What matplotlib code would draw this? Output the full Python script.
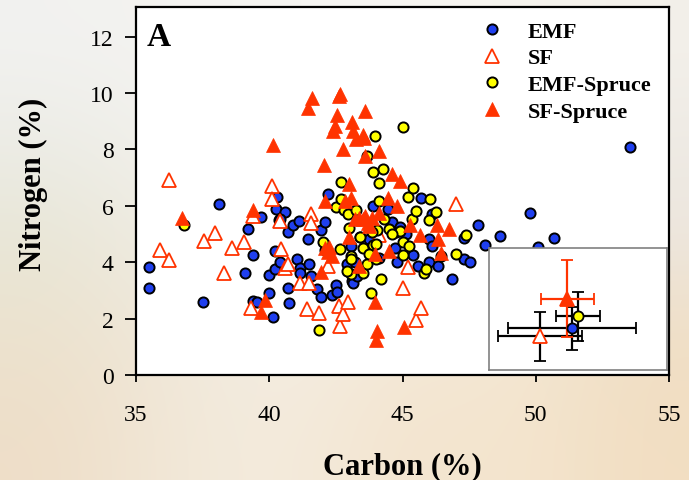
import numpy as np
import matplotlib
matplotlib.use('Agg')
import matplotlib.pyplot as plt

plt.rcParams['font.family'] = ['Liberation Serif', 'DejaVu Serif']

# carbon / nitrogen (%) per sample
emf_c = [35.5, 35.5, 37.5, 38.1, 39.1, 39.2, 39.4, 39.4, 39.55, 39.7, 40.0, 40.0, 40.15, 40.2, 40.2,
         40.25, 40.3, 40.35, 40.4, 40.6, 40.7, 40.7, 40.75, 40.9, 41.05, 41.1, 41.15, 41.15, 41.45,
         41.5, 41.55, 41.8, 41.95, 41.95, 42.1, 42.1, 42.2, 42.35, 42.5, 42.55, 42.8, 42.9, 43.05,
         43.1, 43.15, 43.2, 43.3, 43.4, 43.75, 43.9, 44.0, 44.1, 44.45, 44.6, 44.7, 44.76, 44.8,
         44.9, 45.15, 45.4, 45.6, 45.7, 46.0, 46.1, 46.1, 46.0, 46.35, 46.85, 47.3, 47.55, 47.3,
         47.85, 48.1, 48.65, 49.8, 50.1, 50.7, 53.55, 40.4]
emf_n = [3.83, 3.1, 2.6, 6.06, 3.62, 5.19, 4.27, 2.63, 2.58, 5.6, 3.54, 2.9, 2.04, 4.4, 3.75,
         5.9, 6.3, 5.5, 3.99, 5.78, 5.08, 3.1, 2.55, 5.33, 4.1, 5.46, 3.8, 3.6, 4.83,
         3.92, 3.5, 3.05, 5.15, 2.77, 5.42, 4.43, 6.43, 2.84, 3.18, 2.96, 5.87, 3.93, 4.58,
         3.34, 3.28, 3.99, 3.51, 4.9, 4.81, 6.01, 5.05, 4.16, 5.87, 5.42, 4.52, 5.08, 3.99,
         5.25, 5.01, 4.25, 3.86, 6.27, 4.83, 4.58, 5.7, 3.99, 3.87, 3.4, 4.1, 4.0, 4.85,
         5.32, 4.6, 4.93, 5.73, 4.54, 4.87, 8.07, 5.53]

sf_c = [36.25, 35.9, 36.25, 37.55, 37.95, 38.6, 39.05, 38.3, 39.3, 39.4, 40.1, 40.1, 40.4, 40.45,
        40.6, 40.7, 41.15, 41.4, 41.55, 41.55, 41.5, 41.85, 42.2, 42.6, 42.65, 42.75, 42.97, 45.0,
        45.2, 45.5, 45.7, 47.0, 44.1]
sf_n = [6.93, 4.43, 4.08, 4.75, 5.02, 4.52, 4.72, 3.63, 2.39, 5.64, 6.7, 6.23, 5.46, 4.46,
        3.8, 3.95, 3.27, 2.34, 5.72, 5.38, 3.27, 2.2, 3.87, 2.43, 1.72, 2.17, 2.6, 3.1,
        3.84, 1.96, 2.39, 6.08, 4.95]

emfs_c = [36.8, 41.85, 42.0, 42.5, 42.65, 42.7, 42.7, 42.8, 42.95, 43.0, 43.05, 43.05, 43.05, 43.25,
          43.4, 43.5, 43.5, 43.65, 43.65, 43.8, 43.9, 43.95, 44.0, 44.05, 44.1, 44.1, 44.2, 44.25,
          43.9, 44.3, 44.5, 44.9, 45.0, 45.0, 45.0, 45.2, 45.25, 45.35, 45.4, 45.5, 45.8, 45.9,
          46.0, 46.05, 46.25, 46.45, 47.0, 47.4, 43.87, 43.76, 44.0, 42.9, 44.6]
emfs_n = [5.31, 1.6, 4.73, 5.94, 4.48, 6.84, 6.25, 5.85, 5.7, 5.22, 4.22, 4.1, 3.57, 5.85,
          4.9, 3.6, 4.52, 7.78, 3.93, 2.92, 4.6, 8.47, 4.1, 5.14, 6.82, 6.17, 3.4, 7.29,
          7.19, 5.54, 5.17, 5.1, 8.79, 4.72, 4.25, 6.3, 4.58, 5.52, 6.64, 5.82, 3.63, 3.77,
          5.5, 6.24, 5.78, 4.22, 4.28, 4.98, 5.08, 4.3, 4.65, 3.7, 5.0]

sfs_c = [36.73, 39.4, 39.85, 39.7, 40.13, 41.45, 41.6, 41.95, 42.05, 42.1, 42.1, 42.25, 42.35, 42.4,
         42.45, 42.55, 42.6, 42.65, 42.75, 42.85, 43.0, 43.0, 43.05, 43.1, 43.15, 43.25, 43.35,
         43.35, 43.5, 43.55, 43.6, 43.6, 43.7, 43.85, 43.95, 44.0, 44.05, 44.1, 44.1, 43.95,
         44.45, 44.5, 44.6, 44.8, 44.9, 45.05, 45.3, 45.65, 46.3, 46.35, 46.45, 46.75, 43.2,
         43.5, 42.2, 43.6, 43.75]
sfs_n = [5.55, 5.84, 2.65, 2.22, 8.17, 9.47, 9.82, 3.66, 7.46, 6.17, 4.5, 4.55, 4.22, 8.64,
         8.82, 9.23, 9.88, 9.96, 8.02, 6.17, 4.9, 6.76, 6.29, 8.97, 8.64, 8.37, 3.87,
         5.58, 8.5, 8.4, 9.36, 7.76, 5.4, 5.58, 2.6, 1.25, 1.57, 7.95, 5.75, 4.28,
         6.29, 4.38, 7.14, 6.0, 6.88, 1.69, 5.32, 4.95, 5.31, 4.83, 4.33, 5.16, 5.54,
         5.52, 4.35, 5.65, 5.3]

# group means and SD for the inset
groups = ['EMF', 'SF', 'EMF-Spruce', 'SF-Spruce']
mean_c = [45.3, 41.7, 46.0, 44.8]
sd_c = [7.2, 4.7, 2.5, 3.0]
mean_n = [4.1, 3.3, 5.3, 7.0]
sd_n = [2.1, 2.4, 2.4, 3.8]

blue = '#1f3fef'
red = '#ff3300'
yellow = '#ffff00'

fig = plt.figure(figsize=(6.89, 4.81), dpi=100)

# soft photo-like backdrop
bg_cols = np.array([
    [[242, 242, 240], [244, 243, 240], [246, 245, 242], [247, 246, 243], [246, 244, 238], [243, 240, 234]],
    [[236, 236, 230], [242, 241, 236], [246, 245, 242], [247, 246, 243], [245, 242, 236], [238, 234, 228]],
    [[232, 230, 214], [240, 236, 226], [246, 244, 240], [246, 244, 238], [244, 238, 228], [236, 230, 222]],
    [[236, 226, 206], [240, 232, 218], [244, 238, 228], [243, 232, 214], [244, 232, 212], [240, 222, 196]],
    [[238, 222, 200], [242, 232, 216], [244, 236, 222], [243, 228, 206], [244, 230, 208], [242, 222, 194]],
]) / 255.0
bg = fig.add_axes([0, 0, 1, 1], zorder=-1)
bg.imshow(bg_cols, extent=[0, 1, 0, 1], aspect='auto', interpolation='bicubic')
bg.axis('off')

ax = fig.add_axes([136 / 689, 1 - 376 / 481, 533 / 689, 368 / 481])
ax.set_facecolor('white')

ax.plot(emf_c, emf_n, 'o', ms=7.3, mfc=blue, mec='black', mew=1.4, ls='none', label='EMF')
ax.plot(sf_c, sf_n, '^', ms=9.5, mfc='white', mec=red, mew=1.3, ls='none', label='SF')
ax.plot(emfs_c, emfs_n, 'o', ms=7.3, mfc=yellow, mec='black', mew=1.4, ls='none', label='EMF-Spruce')
ax.plot(sfs_c, sfs_n, '^', ms=9.5, mfc=red, mec=red, mew=0.5, ls='none', label='SF-Spruce')

ax.set_xlim(35, 55)
ax.set_ylim(0, 13.05)
ax.set_xticks([35, 40, 45, 50, 55])
ax.set_yticks([0, 2, 4, 6, 8, 10, 12])
ax.tick_params(axis='x', direction='out', length=5, width=1.3, pad=16, labelsize=17)
ax.tick_params(axis='y', direction='out', length=8, width=1.3, pad=8, labelsize=17)
for s in ax.spines.values():
    s.set_linewidth(1.6)

ax.set_xlabel('Carbon (%)', fontsize=22, fontweight='bold')
ax.set_ylabel('Nitrogen (%)', fontsize=22, fontweight='bold')
ax.xaxis.set_label_coords(0.5, -0.208)
ax.yaxis.set_label_coords(-0.165, 0.52)

ax.text(0.02, 0.962, 'A', transform=ax.transAxes, fontsize=24, fontweight='bold', va='top', ha='left')

leg = ax.legend(loc='upper left', bbox_to_anchor=(481 / 689, 1 - 22 / 481), bbox_transform=fig.transFigure,
                frameon=False, borderpad=0, borderaxespad=0, handlelength=1.0, handletextpad=1.1,
                labelspacing=0.28, prop={'size': 16, 'weight': 'bold'})

# inset with group means +/- SD
ins = fig.add_axes([489 / 689, 1 - 371 / 481, 178 / 689, 122 / 481])
ins.set_facecolor('white')
ins.set_xlim(36, 56)
ins.set_ylim(0, 12)
ins.set_xticks([])
ins.set_yticks([])
for s in ins.spines.values():
    s.set_color('#808080')
    s.set_linewidth(1.2)

styles = [
    dict(marker='o', ms=7.3, mfc=blue, mec='black', ecolor='black'),
    dict(marker='^', ms=9.5, mfc='white', mec=red, ecolor='black'),
    dict(marker='o', ms=7.3, mfc=yellow, mec='black', ecolor='black'),
    dict(marker='^', ms=9.5, mfc=red, mec=red, ecolor=red),
]
for i in range(4):
    st = styles[i]
    ins.errorbar(mean_c[i], mean_n[i], xerr=sd_c[i], yerr=sd_n[i], fmt=st['marker'], ms=st['ms'],
                 mfc=st['mfc'], mec=st['mec'], mew=1.3, ecolor=st['ecolor'], elinewidth=1.6,
                 capsize=4.5, capthick=1.6)

fig.savefig('out.png', dpi=100)
